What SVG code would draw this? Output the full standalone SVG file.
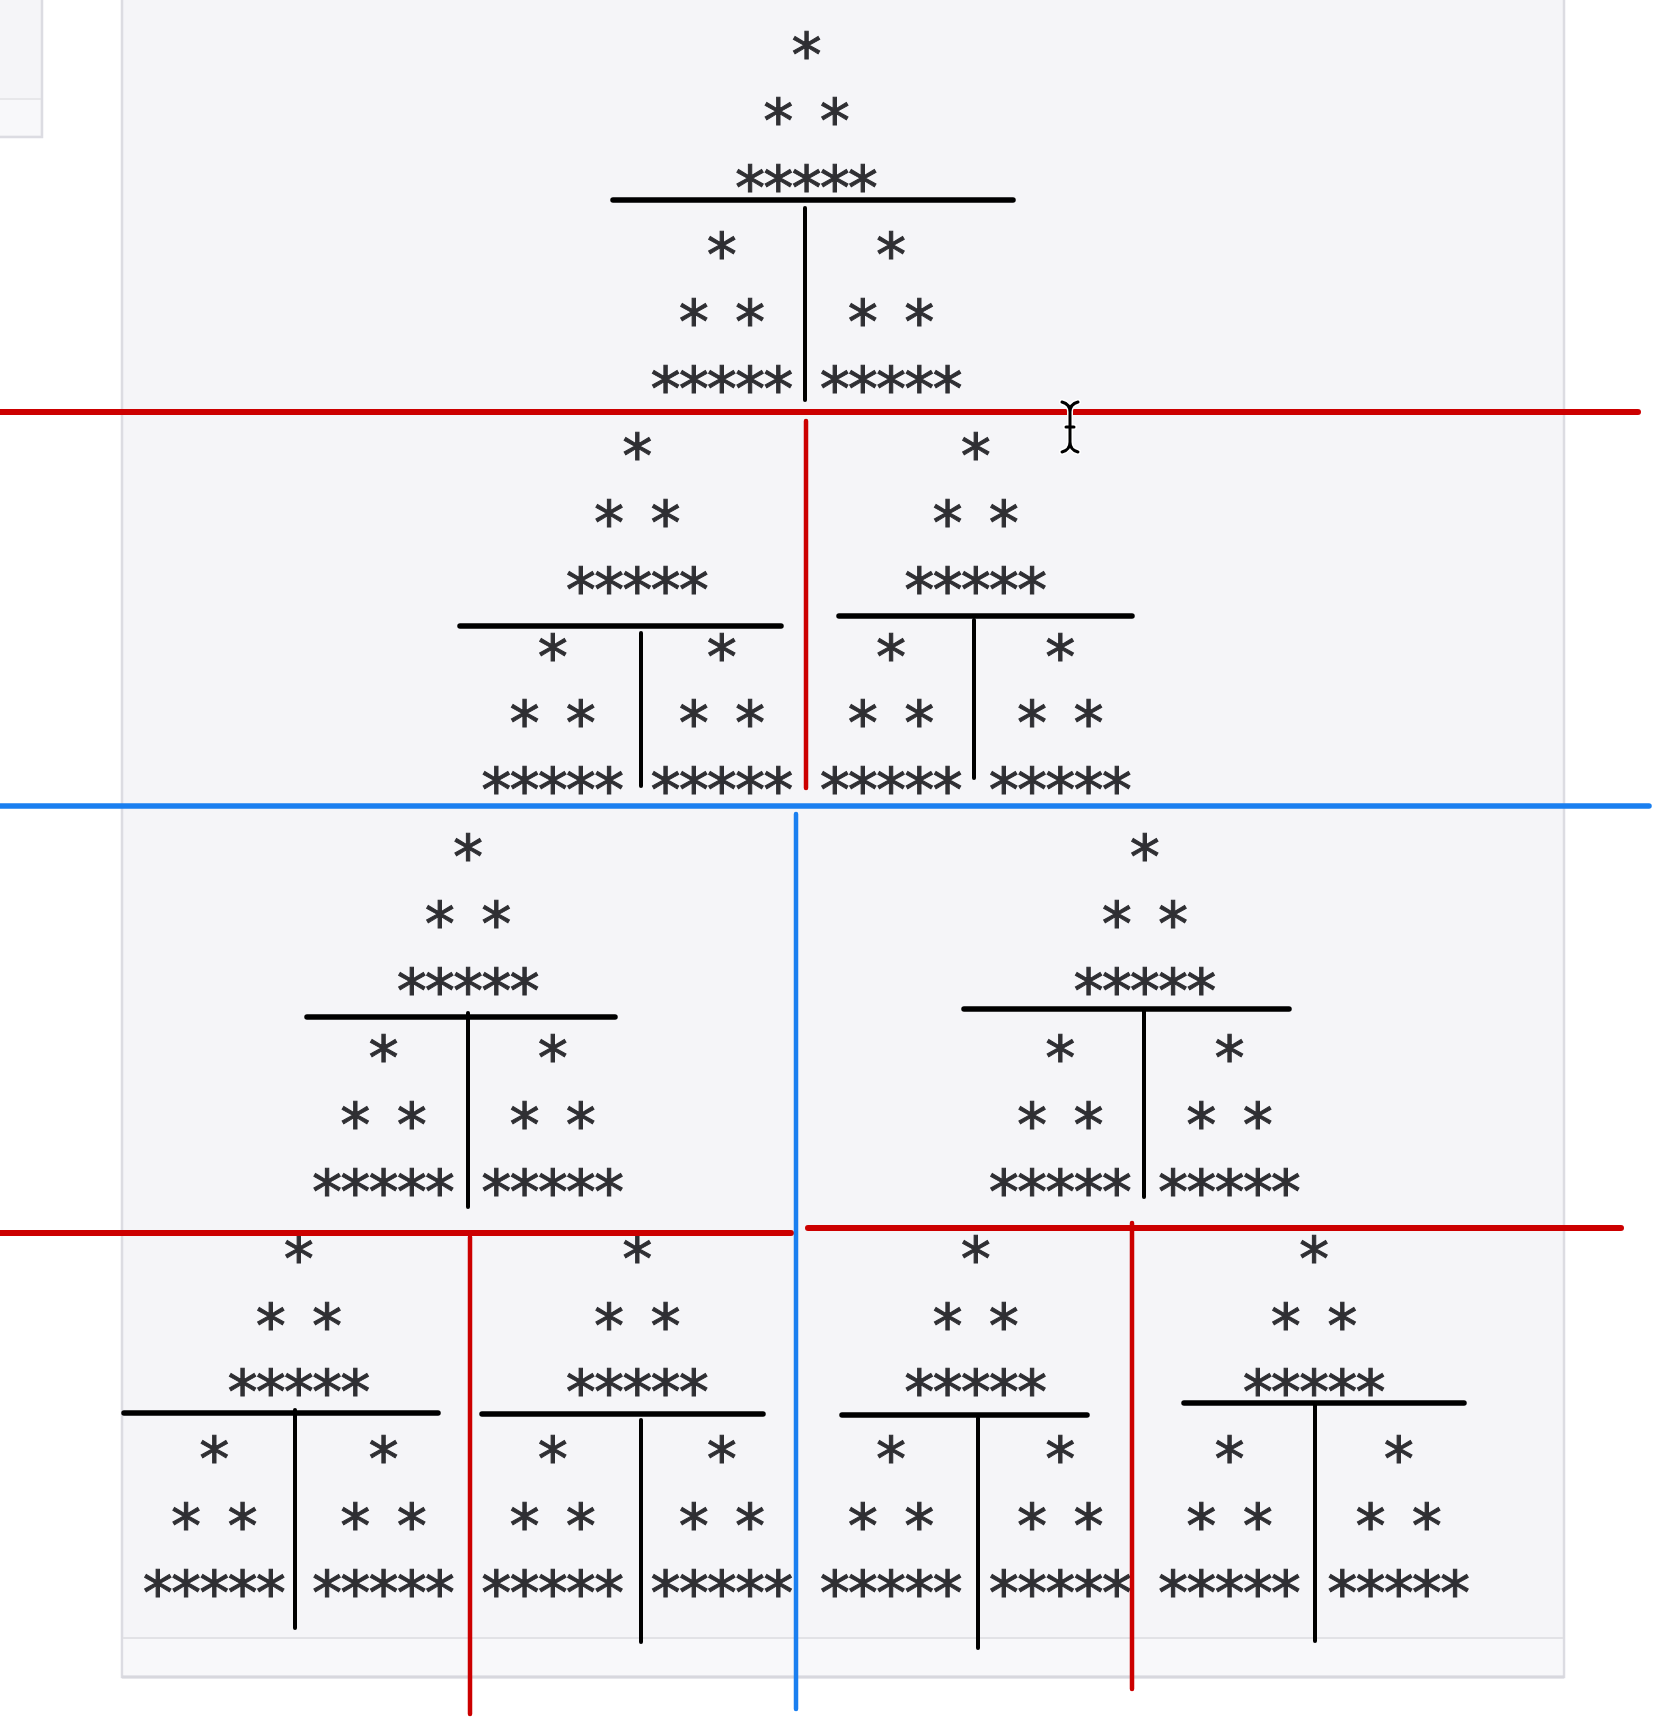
<svg xmlns="http://www.w3.org/2000/svg" width="1667" height="1722" viewBox="0 0 1667 1722">
<style>
.s{font-family:"DejaVu Sans Mono","Liberation Mono",monospace;font-size:60px;fill:#2f2f33;stroke:#2f2f33;stroke-width:1;text-anchor:middle}
.bh{stroke:#000;stroke-width:5.5;stroke-linecap:round;fill:none}
.bv{stroke:#000;stroke-width:4;stroke-linecap:round;fill:none}
.rh{stroke:#cc0000;stroke-width:6;stroke-linecap:round;fill:none}
.rv{stroke:#cc0000;stroke-width:4.5;stroke-linecap:round;fill:none}
.lh{stroke:#1a7ff0;stroke-width:5.5;stroke-linecap:round;fill:none}
.lv{stroke:#1a7ff0;stroke-width:4.5;stroke-linecap:round;fill:none}
</style>
<rect width="1667" height="1722" fill="#ffffff"/>
<g id="background">
<rect x="-2" y="-2" width="44" height="139" fill="#f5f5f8" stroke="#dcdce2" stroke-width="2.5"/>
<line x1="0" y1="99" x2="41" y2="99" stroke="#e2e2e6" stroke-width="1.5"/>
<rect x="0" y="100" width="40" height="35" fill="#f8f8fa"/>
<rect x="122" y="-3" width="1442" height="1680" fill="#f5f5f8" stroke="#dcdce2" stroke-width="2.5"/>
<rect x="123.5" y="1638" width="1439" height="37.5" fill="#f8f8fa"/>
<line x1="123" y1="1638" x2="1563" y2="1638" stroke="#e2e2e6" stroke-width="2"/>
<line x1="122" y1="1677" x2="1564" y2="1677" stroke="#d8d8de" stroke-width="3"/>
</g>
<g id="u0" class="s" transform="translate(806.5,0)"><text x="0" y="75.5">*</text><text x="-28.2 0 28.2" y="142.4">* *</text><text x="-56.4 -28.2 0 28.2 56.4" y="209.3">*****</text></g>
<g id="u1" class="s" transform="translate(721.9,200.7)"><text x="0" y="75.5">*</text><text x="-28.2 0 28.2" y="142.4">* *</text><text x="-56.4 -28.2 0 28.2 56.4" y="209.3">*****</text></g>
<g id="u2" class="s" transform="translate(891.1,200.7)"><text x="0" y="75.5">*</text><text x="-28.2 0 28.2" y="142.4">* *</text><text x="-56.4 -28.2 0 28.2 56.4" y="209.3">*****</text></g>
<g id="u3" class="s" transform="translate(637.3,401.4)"><text x="0" y="75.5">*</text><text x="-28.2 0 28.2" y="142.4">* *</text><text x="-56.4 -28.2 0 28.2 56.4" y="209.3">*****</text></g>
<g id="u4" class="s" transform="translate(552.7,602.1)"><text x="0" y="75.5">*</text><text x="-28.2 0 28.2" y="142.4">* *</text><text x="-56.4 -28.2 0 28.2 56.4" y="209.3">*****</text></g>
<g id="u5" class="s" transform="translate(721.9,602.1)"><text x="0" y="75.5">*</text><text x="-28.2 0 28.2" y="142.4">* *</text><text x="-56.4 -28.2 0 28.2 56.4" y="209.3">*****</text></g>
<g id="u6" class="s" transform="translate(975.7,401.4)"><text x="0" y="75.5">*</text><text x="-28.2 0 28.2" y="142.4">* *</text><text x="-56.4 -28.2 0 28.2 56.4" y="209.3">*****</text></g>
<g id="u7" class="s" transform="translate(891.1,602.1)"><text x="0" y="75.5">*</text><text x="-28.2 0 28.2" y="142.4">* *</text><text x="-56.4 -28.2 0 28.2 56.4" y="209.3">*****</text></g>
<g id="u8" class="s" transform="translate(1060.3,602.1)"><text x="0" y="75.5">*</text><text x="-28.2 0 28.2" y="142.4">* *</text><text x="-56.4 -28.2 0 28.2 56.4" y="209.3">*****</text></g>
<g id="u9" class="s" transform="translate(468.1,802.8)"><text x="0" y="75.5">*</text><text x="-28.2 0 28.2" y="142.4">* *</text><text x="-56.4 -28.2 0 28.2 56.4" y="209.3">*****</text></g>
<g id="u10" class="s" transform="translate(383.5,1003.5)"><text x="0" y="75.5">*</text><text x="-28.2 0 28.2" y="142.4">* *</text><text x="-56.4 -28.2 0 28.2 56.4" y="209.3">*****</text></g>
<g id="u11" class="s" transform="translate(552.7,1003.5)"><text x="0" y="75.5">*</text><text x="-28.2 0 28.2" y="142.4">* *</text><text x="-56.4 -28.2 0 28.2 56.4" y="209.3">*****</text></g>
<g id="u12" class="s" transform="translate(298.9,1204.2)"><text x="0" y="75.5">*</text><text x="-28.2 0 28.2" y="142.4">* *</text><text x="-56.4 -28.2 0 28.2 56.4" y="209.3">*****</text></g>
<g id="u13" class="s" transform="translate(214.3,1404.9)"><text x="0" y="75.5">*</text><text x="-28.2 0 28.2" y="142.4">* *</text><text x="-56.4 -28.2 0 28.2 56.4" y="209.3">*****</text></g>
<g id="u14" class="s" transform="translate(383.5,1404.9)"><text x="0" y="75.5">*</text><text x="-28.2 0 28.2" y="142.4">* *</text><text x="-56.4 -28.2 0 28.2 56.4" y="209.3">*****</text></g>
<g id="u15" class="s" transform="translate(637.3,1204.2)"><text x="0" y="75.5">*</text><text x="-28.2 0 28.2" y="142.4">* *</text><text x="-56.4 -28.2 0 28.2 56.4" y="209.3">*****</text></g>
<g id="u16" class="s" transform="translate(552.7,1404.9)"><text x="0" y="75.5">*</text><text x="-28.2 0 28.2" y="142.4">* *</text><text x="-56.4 -28.2 0 28.2 56.4" y="209.3">*****</text></g>
<g id="u17" class="s" transform="translate(721.9,1404.9)"><text x="0" y="75.5">*</text><text x="-28.2 0 28.2" y="142.4">* *</text><text x="-56.4 -28.2 0 28.2 56.4" y="209.3">*****</text></g>
<g id="u18" class="s" transform="translate(1144.9,802.8)"><text x="0" y="75.5">*</text><text x="-28.2 0 28.2" y="142.4">* *</text><text x="-56.4 -28.2 0 28.2 56.4" y="209.3">*****</text></g>
<g id="u19" class="s" transform="translate(1060.3,1003.5)"><text x="0" y="75.5">*</text><text x="-28.2 0 28.2" y="142.4">* *</text><text x="-56.4 -28.2 0 28.2 56.4" y="209.3">*****</text></g>
<g id="u20" class="s" transform="translate(1229.5,1003.5)"><text x="0" y="75.5">*</text><text x="-28.2 0 28.2" y="142.4">* *</text><text x="-56.4 -28.2 0 28.2 56.4" y="209.3">*****</text></g>
<g id="u21" class="s" transform="translate(975.7,1204.2)"><text x="0" y="75.5">*</text><text x="-28.2 0 28.2" y="142.4">* *</text><text x="-56.4 -28.2 0 28.2 56.4" y="209.3">*****</text></g>
<g id="u22" class="s" transform="translate(891.1,1404.9)"><text x="0" y="75.5">*</text><text x="-28.2 0 28.2" y="142.4">* *</text><text x="-56.4 -28.2 0 28.2 56.4" y="209.3">*****</text></g>
<g id="u23" class="s" transform="translate(1060.3,1404.9)"><text x="0" y="75.5">*</text><text x="-28.2 0 28.2" y="142.4">* *</text><text x="-56.4 -28.2 0 28.2 56.4" y="209.3">*****</text></g>
<g id="u24" class="s" transform="translate(1314.1,1204.2)"><text x="0" y="75.5">*</text><text x="-28.2 0 28.2" y="142.4">* *</text><text x="-56.4 -28.2 0 28.2 56.4" y="209.3">*****</text></g>
<g id="u25" class="s" transform="translate(1229.5,1404.9)"><text x="0" y="75.5">*</text><text x="-28.2 0 28.2" y="142.4">* *</text><text x="-56.4 -28.2 0 28.2 56.4" y="209.3">*****</text></g>
<g id="u26" class="s" transform="translate(1398.7,1404.9)"><text x="0" y="75.5">*</text><text x="-28.2 0 28.2" y="142.4">* *</text><text x="-56.4 -28.2 0 28.2 56.4" y="209.3">*****</text></g>
<g id="connectors">
<g id="black-lines">
<line class="bh" x1="613" y1="200" x2="1013" y2="200"/>
<line class="bv" x1="805" y1="208" x2="805" y2="400"/>
<line class="bh" x1="460" y1="626" x2="781" y2="626"/>
<line class="bv" x1="641" y1="633" x2="641" y2="786"/>
<line class="bh" x1="839" y1="616" x2="1132" y2="616"/>
<line class="bv" x1="974" y1="620" x2="974" y2="778"/>
<line class="bh" x1="307" y1="1017" x2="615" y2="1017"/>
<line class="bv" x1="468" y1="1013" x2="468" y2="1207"/>
<line class="bh" x1="964" y1="1009" x2="1289" y2="1009"/>
<line class="bv" x1="1144" y1="1010" x2="1144" y2="1197"/>
<line class="bh" x1="124" y1="1413" x2="438" y2="1413"/>
<line class="bv" x1="295" y1="1410" x2="295" y2="1628"/>
<line class="bh" x1="482" y1="1414" x2="763" y2="1414"/>
<line class="bv" x1="641" y1="1420" x2="641" y2="1642"/>
<line class="bh" x1="842" y1="1415" x2="1087" y2="1415"/>
<line class="bv" x1="978" y1="1418" x2="978" y2="1648"/>
<line class="bh" x1="1184" y1="1403" x2="1464" y2="1403"/>
<line class="bv" x1="1315" y1="1405" x2="1315" y2="1641"/>
</g>
<g id="red-lines">
<line class="rh" x1="0" y1="412" x2="1638" y2="412"/>
<line class="rv" x1="806" y1="421" x2="806" y2="788"/>
<line class="rh" x1="0" y1="1233" x2="791" y2="1233"/>
<line class="rv" x1="470" y1="1237" x2="470" y2="1714"/>
<line class="rh" x1="808" y1="1228" x2="1621" y2="1228"/>
<line class="rv" x1="1132" y1="1223" x2="1132" y2="1689"/>
</g>
<g id="blue-lines">
<line class="lh" x1="0" y1="806" x2="1649" y2="806"/>
<line class="lv" x1="796" y1="814" x2="796" y2="1709"/>
</g>
</g>
<g id="cursor" fill="none" stroke-linecap="round">
<path d="M1062,402 Q1070,404 1070,412 Q1070,404 1078,402 M1070,412 V442 M1062,452 Q1070,450 1070,442 Q1070,450 1078,452 M1066,427 H1074" stroke="#ffffff" stroke-width="6"/>
<path d="M1062,402 Q1070,404 1070,412 Q1070,404 1078,402 M1070,412 V442 M1062,452 Q1070,450 1070,442 Q1070,450 1078,452 M1066,427 H1074" stroke="#000" stroke-width="3"/>
</g>
</svg>
